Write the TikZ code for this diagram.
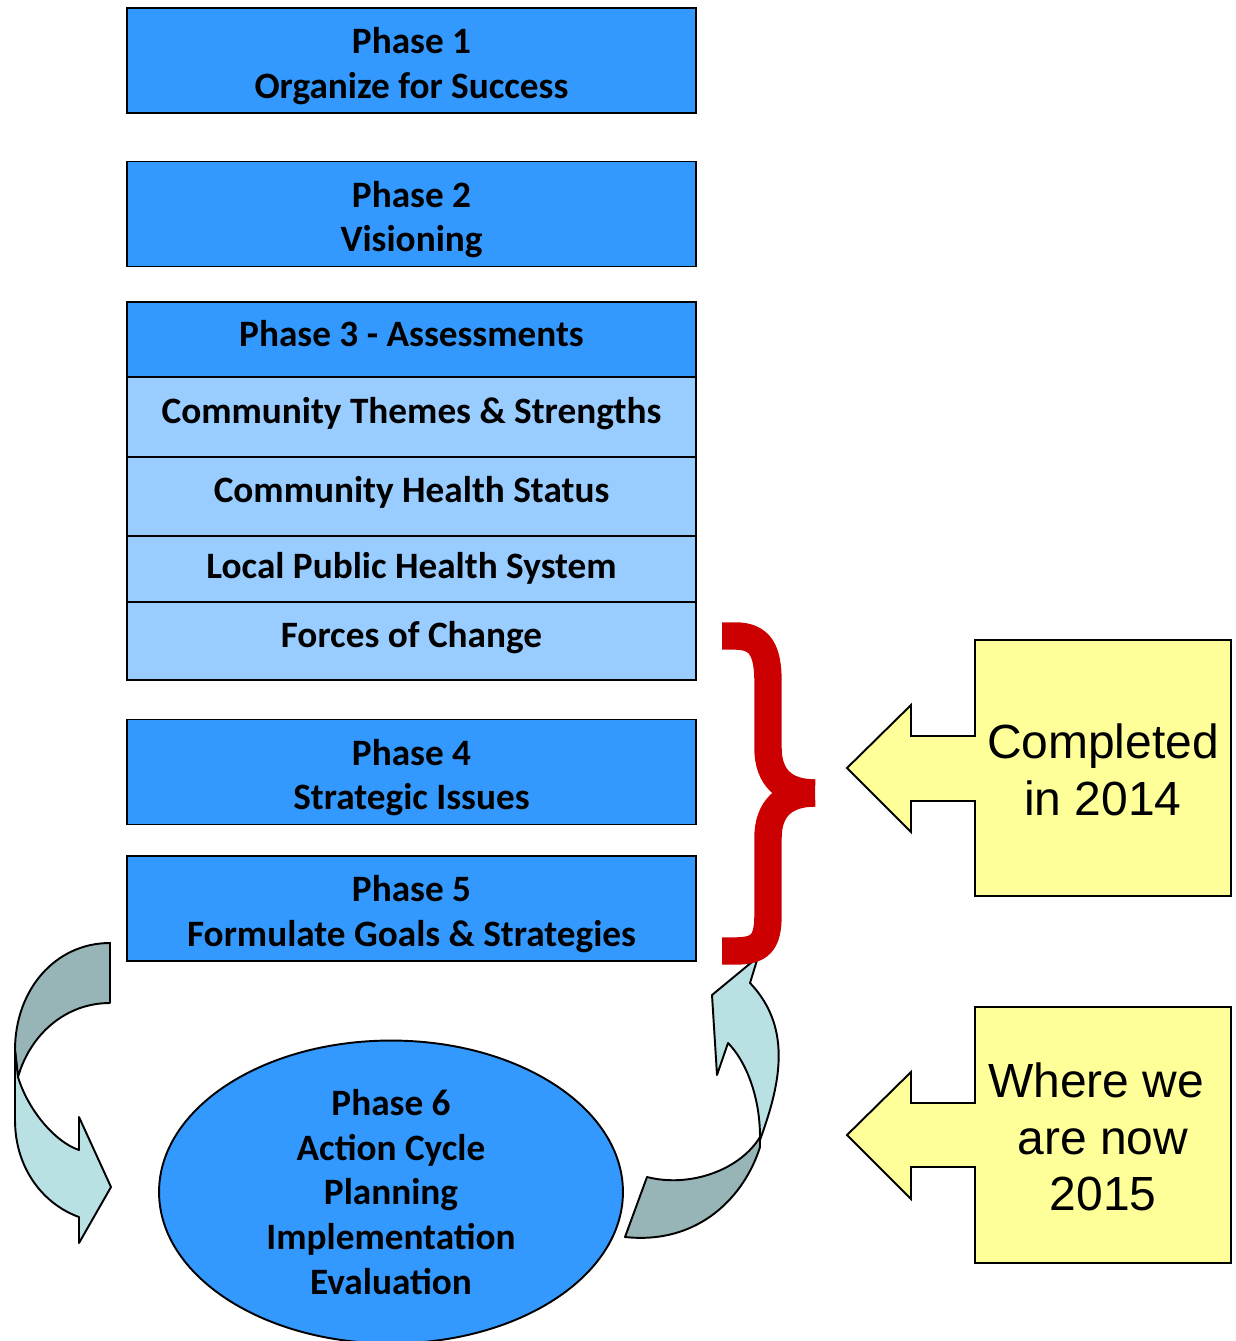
\documentclass[tikz,border=0pt]{standalone}
\usepackage{fontspec}
\setmainfont{Carlito}
\newfontfamily\calloutfont{Liberation Sans}
\usetikzlibrary{shapes.geometric}

\definecolor{phaseblue}{HTML}{3399FF}
\definecolor{rowblue}{HTML}{99CCFF}
\definecolor{noteyellow}{HTML}{FFFF99}
\definecolor{bracered}{HTML}{CC0000}
\definecolor{cycledark}{HTML}{97B5B6}
\definecolor{cyclelight}{HTML}{B9E0E3}

\newcommand{\phasefont}{\fontsize{21.2pt}{25.5pt}\selectfont\bfseries}
\newcommand{\notefont}{\calloutfont\fontsize{27.3pt}{32.3pt}\selectfont}

\tikzset{
  phase/.style={draw=black, line width=1.1pt, fill=phaseblue, minimum width=11.38cm,
                minimum height=2.1cm, inner sep=0pt, align=center, font=\phasefont},
  twoline/.style={text height=1.78cm, text depth=0.26cm},
  oneline/.style={text height=0.5cm, text depth=0.26cm},
  assess/.style={phase, oneline, fill=rowblue},
  cycleband/.style={draw=black, line width=1.1pt, line join=round},
  note/.style={draw=black, line width=1.1pt, fill=noteyellow, line join=miter},
  notetext/.style={align=center, inner sep=0pt, font=\notefont}
}

\begin{document}
\begin{tikzpicture}[x=0.02cm, y=-0.02cm]
\useasboundingbox (0,0) rectangle (1235,1341);

% Phases 1 and 2
\node[phase, twoline] (p1) at (411.5,60.5) {Phase 1\\Organize for Success};
\node[phase, twoline] (p2) at (411.5,214)  {Phase 2\\Visioning};

% Phase 3 and its assessments
\node[phase, oneline, text height=0.54cm, minimum height=1.5cm] (p3) at (411.5,339.5) {Phase 3 - Assessments};
\node[assess, minimum height=1.6cm]  (cts) at (411.5,417)   {Community Themes \& Strengths};
\node[assess, minimum height=1.58cm] (chs) at (411.5,496.5) {Community Health Status};
\node[assess, text height=0.62cm, minimum height=1.32cm] (lph) at (411.5,569) {Local Public Health System};
\node[assess, minimum height=1.56cm] (foc) at (411.5,641)   {Forces of Change};

% Phases 4 and 5
\node[phase, twoline] (p4) at (411.5,772)   {Phase 4\\Strategic Issues};
\node[phase, twoline] (p5) at (411.5,908.5) {Phase 5\\Formulate Goals \& Strategies};

% Phase 6
\node[phase, ellipse, minimum width=9.28cm, minimum height=6.06cm] (p6) at (391,1192)
  {Phase 6\\Action Cycle\\Planning\\Implementation\\Evaluation};

% Curved arrow, left
\draw[cycleband, fill=cycledark] (110,943) .. controls (55,943) and (15,990) .. (15,1050)
  -- (18,1077) .. controls (30,1035) and (65,1003) .. (110,1003) -- cycle;
\draw[cycleband, fill=cyclelight] (15,1050) -- (15,1120) .. controls (15,1170) and (45,1205) .. (79,1217)
  -- (79,1243) -- (111,1187) -- (79,1117) -- (79,1150)
  .. controls (55,1142) and (28,1110) .. (18,1077) -- cycle;

% Curved arrow, right
\draw[cycleband, fill=cycledark] (647,1177) .. controls (690,1188) and (740,1170) .. (760,1137)
  -- (760,1147) .. controls (745,1195) and (700,1245) .. (625,1237) -- cycle;
\draw[cycleband, fill=cyclelight] (760,1140) .. controls (778,1090) and (795,1030) .. (750,983)
  -- (758,957) -- (712,995) -- (717,1075) -- (728,1043)
  .. controls (745,1060) and (760,1095) .. (760,1137) -- cycle;

% Brace
\draw[bracered, line width=15.6pt] (722,636) -- (735,636) .. controls (760,636) and (768,650) .. (768,682)
  -- (768,748) .. controls (768,778) and (785,793) .. (815,793);
\draw[bracered, line width=15.6pt] (815,793) .. controls (785,793) and (768,808) .. (768,838)
  -- (768,915) .. controls (768,943) and (760,951) .. (735,951) -- (722,951);

% Callouts
\draw[note] (975,640) -- (1231,640) -- (1231,896) -- (975,896) -- (975,801) -- (911,801)
  -- (911,832) -- (847,768) -- (911,705) -- (911,736) -- (975,736) -- cycle;
\node[notetext] (done) at (1103,770) {Completed\\in 2014};

\draw[note] (975,1007) -- (1231,1007) -- (1231,1263) -- (975,1263) -- (975,1167) -- (911,1167)
  -- (911,1199) -- (847,1135) -- (911,1072) -- (911,1103) -- (975,1103) -- cycle;
\node[notetext] (now) at (1103,1137) {Where we\kern0.28em\\are now\\2015};

\end{tikzpicture}
\end{document}
